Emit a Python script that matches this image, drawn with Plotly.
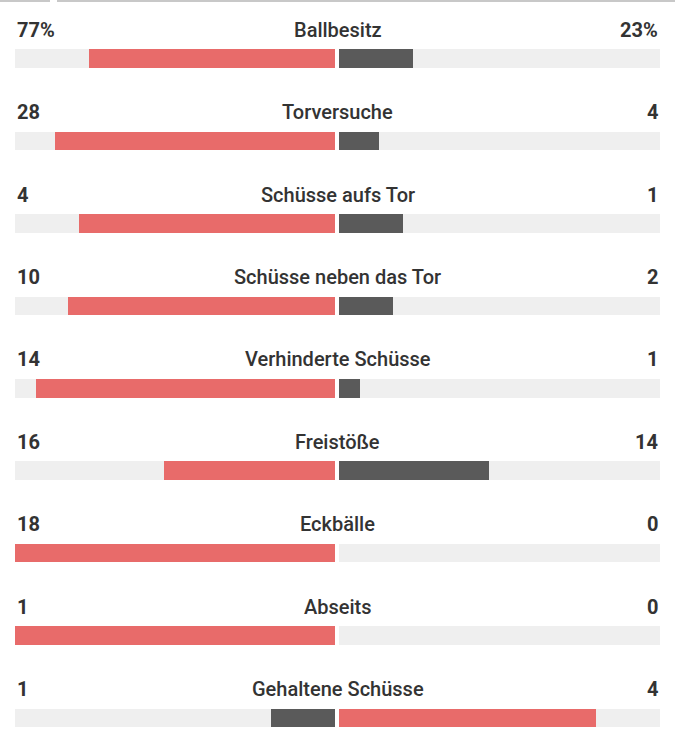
import plotly.graph_objects as go

categories = ["Ballbesitz", "Torversuche", "Schüsse aufs Tor", "Schüsse neben das Tor",
              "Verhinderte Schüsse", "Freistöße", "Eckbälle", "Abseits", "Gehaltene Schüsse"]
home_values = [77, 28, 4, 10, 14, 16, 18, 1, 1]
away_values = [23, 4, 1, 2, 1, 14, 0, 0, 4]
home_labels = ["77%", "28", "4", "10", "14", "16", "18", "1", "1"]
away_labels = ["23%", "4", "1", "2", "1", "14", "0", "0", "4"]

RED = "#e86b6a"
DARK = "#5a5a5a"
TRACK = "#efefef"
TXT = "#333333"
FONT = "Roboto"

rows = list(range(len(categories)))
home_frac = [h / (h + a) if (h + a) else 0 for h, a in zip(home_values, away_values)]
away_frac = [a / (h + a) if (h + a) else 0 for h, a in zip(home_values, away_values)]
home_col = [RED if h >= a else DARK for h, a in zip(home_values, away_values)]
away_col = [RED if a > h else DARK for h, a in zip(home_values, away_values)]

BW = 0.225
fig = go.Figure()
# tracks
fig.add_trace(go.Bar(y=rows, x=[1] * len(rows), orientation="h", width=BW,
                     marker=dict(color=TRACK, line=dict(width=0)), xaxis="x", yaxis="y",
                     hoverinfo="skip", showlegend=False))
fig.add_trace(go.Bar(y=rows, x=[1] * len(rows), orientation="h", width=BW,
                     marker=dict(color=TRACK, line=dict(width=0)), xaxis="x2", yaxis="y",
                     hoverinfo="skip", showlegend=False))
# values
fig.add_trace(go.Bar(y=rows, x=home_frac, orientation="h", width=BW,
                     marker=dict(color=home_col, line=dict(width=0)), xaxis="x", yaxis="y",
                     showlegend=False))
fig.add_trace(go.Bar(y=rows, x=away_frac, orientation="h", width=BW,
                     marker=dict(color=away_col, line=dict(width=0)), xaxis="x2", yaxis="y",
                     showlegend=False))

ann = []
off = 0.35
for i, c in enumerate(categories):
    ann.append(dict(x=0.5, xref="paper", y=i - off, yref="y", text=c, showarrow=False,
                    xanchor="center", yanchor="middle",
                    font=dict(family=FONT, size=20, color=TXT, weight=500)))
    ann.append(dict(x=0, xref="paper", y=i - off, yref="y", text=home_labels[i], showarrow=False,
                    xanchor="left", yanchor="middle",
                    font=dict(family=FONT, size=20, color=TXT, weight="bold")))
    ann.append(dict(x=1, xref="paper", y=i - off, yref="y", text=away_labels[i], showarrow=False,
                    xanchor="right", yanchor="middle",
                    font=dict(family=FONT, size=20, color=TXT, weight="bold")))

shapes = [
    dict(type="line", xref="paper", yref="paper", x0=-15 / 645, x1=35 / 645, y0=1, y1=1,
         line=dict(color="#c8c8c8", width=4)),
    dict(type="line", xref="paper", yref="paper", x0=42 / 645, x1=660 / 645, y0=1, y1=1,
         line=dict(color="#c8c8c8", width=4)),
]

fig.update_layout(
    width=675, height=750,
    margin=dict(l=15, r=15, t=0, b=0),
    paper_bgcolor="white", plot_bgcolor="white",
    barmode="overlay", bargap=0,
    xaxis=dict(domain=[0, 320 / 645], range=[1, 0], visible=False, fixedrange=True),
    xaxis2=dict(domain=[324 / 645, 1], range=[0, 1], visible=False, fixedrange=True),
    yaxis=dict(range=[8.387, -0.7095], visible=False, fixedrange=True),
    annotations=ann, shapes=shapes,
)

fig.write_html("out.html", config={"displayModeBar": False},
               post_script="document.body.style.margin='0px';document.body.style.overflow='hidden';")
